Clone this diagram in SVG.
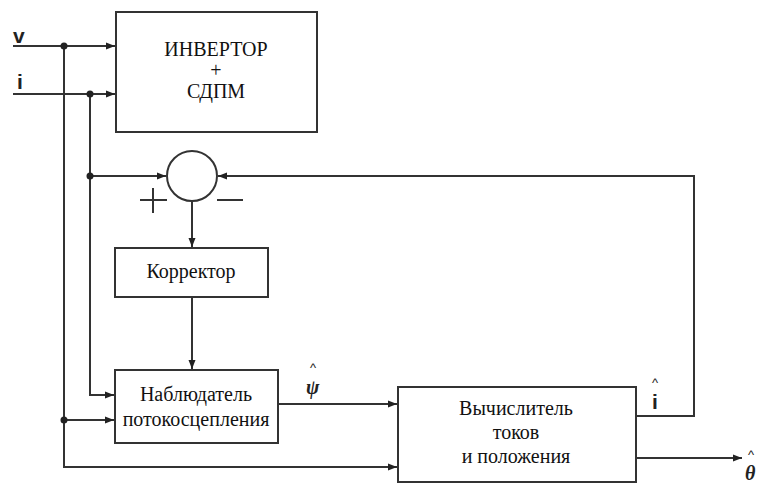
<svg xmlns="http://www.w3.org/2000/svg" width="760" height="483" viewBox="0 0 760 483">
<style>
.box{fill:#fff;stroke:#333;stroke-width:2}
.ln{fill:none;stroke:#333;stroke-width:2}
.t{font-family:"Liberation Serif","DejaVu Serif","Times New Roman",serif;font-size:20px;fill:#111;text-anchor:middle}
.s{font-family:"Liberation Sans",Arial,sans-serif;font-weight:bold;font-size:21px;fill:#222}
.g{font-family:"Liberation Serif","DejaVu Serif",serif;font-style:italic;font-weight:bold;font-size:20px;fill:#222}
.hat{font-family:"Liberation Sans",Arial,sans-serif;font-size:13px;fill:#222;text-anchor:middle}
.dot{fill:#222}
.sg{stroke:#333;stroke-width:2}
</style>
<defs>
<marker id="ar" markerWidth="10" markerHeight="8" refX="9" refY="4" orient="auto" markerUnits="userSpaceOnUse">
<path d="M0,0.5 L9,4 L0,7.5 Z" fill="#222"/>
</marker>
</defs>
<rect width="760" height="483" fill="#fff"/>
<g id="connectors">
<path class="ln" d="M13,46 H115" marker-end="url(#ar)"/>
<path class="ln" d="M13,94 H115" marker-end="url(#ar)"/>
<path class="ln" d="M64,46 V467 H397" marker-end="url(#ar)"/>
<path class="ln" d="M64,420 H114" marker-end="url(#ar)"/>
<path class="ln" d="M90,94 V395 H114" marker-end="url(#ar)"/>
<path class="ln" d="M90,176 H166" marker-end="url(#ar)"/>
<path class="ln" d="M192,201 V247" marker-end="url(#ar)"/>
<path class="ln" d="M192,297 V369" marker-end="url(#ar)"/>
<path class="ln" d="M278,404 H397" marker-end="url(#ar)"/>
<path class="ln" d="M636,416 H694 V176 H218" marker-end="url(#ar)"/>
<path class="ln" d="M636,458 H742" marker-end="url(#ar)"/>
<circle class="dot" cx="64" cy="46" r="3.5"/>
<circle class="dot" cx="90" cy="94" r="3.5"/>
<circle class="dot" cx="90" cy="176" r="3.5"/>
<circle class="dot" cx="64" cy="420" r="3.5"/>
</g>
<g id="inputs">
<text class="s" x="13" y="43">v</text>
<text class="s" x="17" y="89">i</text>
</g>
<g id="inverter">
<rect class="box" x="116" y="12" width="201" height="120"/>
<text class="t" x="216" y="56">ИНВЕРТОР</text>
<text class="t" x="216" y="77">+</text>
<text class="t" x="216" y="98">СДПМ</text>
</g>
<g id="summator">
<circle class="ln" cx="192" cy="176" r="25"/>
<line class="sg" x1="140" y1="200" x2="167" y2="200"/>
<line class="sg" x1="153" y1="188" x2="153" y2="213"/>
<line class="sg" x1="217" y1="200" x2="243" y2="200"/>
</g>
<g id="corrector">
<rect class="box" x="115" y="248" width="153" height="49"/>
<text class="t" x="191" y="278">Корректор</text>
</g>
<g id="observer">
<rect class="box" x="115" y="370" width="163" height="73"/>
<text class="t" x="196" y="401">Наблюдатель</text>
<text class="t" x="196" y="426">потокосцепления</text>
<text class="hat" x="313" y="372">^</text>
<text class="g" x="306" y="394">ψ</text>
</g>
<g id="calculator">
<rect class="box" x="398" y="387" width="238" height="95"/>
<text class="t" x="516" y="415">Вычислитель</text>
<text class="t" x="516" y="439">токов</text>
<text class="t" x="516" y="463">и положения</text>
<text class="hat" x="655" y="387">^</text>
<text class="s" x="652" y="409">i</text>
<text class="hat" x="751" y="459">^</text>
<text class="g" x="745" y="480">θ</text>
</g>
</svg>
